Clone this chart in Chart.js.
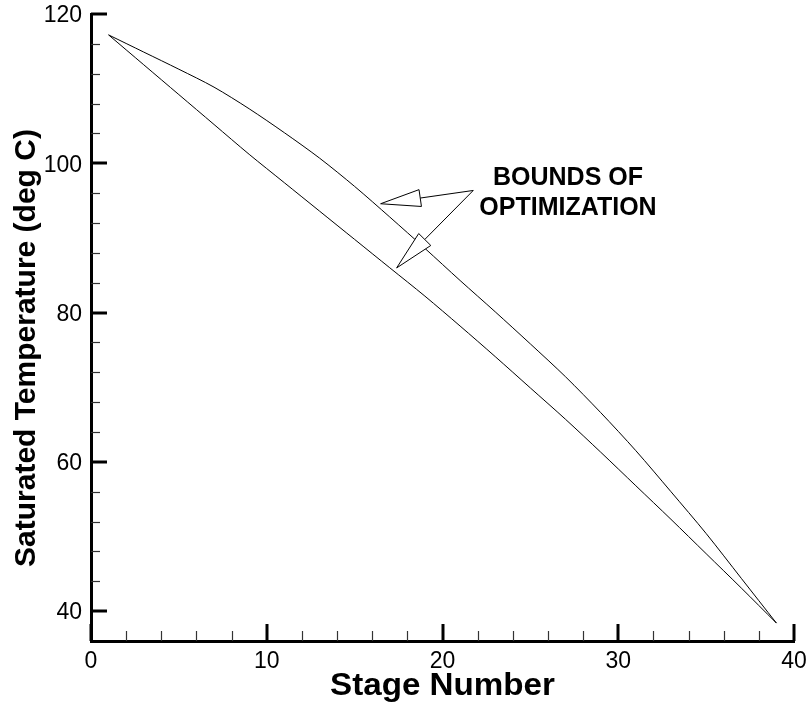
<!DOCTYPE html>
<html>
<head>
<meta charset="utf-8">
<script src="https://cdn.jsdelivr.net/npm/chart.js@4.4.1/dist/chart.umd.min.js"></script>
<style>
    html, body { margin: 0; padding: 0; background: #fff; }
    #wrap { width: 809px; height: 702px; }
</style>
</head>
<body>
<div id="wrap"><canvas id="Chart" width="809" height="702"></canvas></div>
<script>
// saturated temperature per stage, upper and lower bounds
const stages = [1, 3, 5, 7, 9, 11, 13, 15, 17, 19, 21, 23, 25, 27, 29, 31, 33, 35, 37, 39];
const upperBound = [117.2, 114.9, 112.6, 110.2, 107.3, 104.1, 100.7, 96.9, 92.8, 88.6,
    84.3, 80.1, 75.8, 71.4, 66.6, 61.5, 56.0, 50.4, 44.4, 38.4];
const lowerBound = [117.2, 113.2, 109.2, 105.2, 101.2, 97.4, 93.6, 89.8, 86.0, 82.2,
    78.2, 74.1, 69.9, 65.7, 61.3, 56.8, 52.3, 47.7, 43.1, 38.4];

const xTicks = [0, 10, 20, 30, 40];
const yTicks = [40, 60, 80, 100, 120];
const xMinorTicks = [2, 4, 6, 8, 12, 14, 16, 18, 22, 24, 26, 28, 32, 34, 36, 38];
const yMinorTicks = [44, 48, 52, 56, 64, 68, 72, 76, 84, 88, 92, 96, 104, 108, 112, 116];

const labelLines = ['BOUNDS OF', 'OPTIMIZATION'];
const xTitle = 'Stage Number';
const yTitle = 'Saturated Temperature (deg C)';

// label anchor and arrow tips, in data units
const labelAt = {x: 27.14, y: [97.1, 93.1]};
const arrowFrom = {x: 21.75, y: 96.36};
const arrowTips = [{x: 16.48, y: 94.58}, {x: 17.39, y: 85.98}];

const FONT = 'Arial, "Liberation Sans", sans-serif';

function drawArrow(ctx, x0, y0, x1, y1) {
    const headLen = 40, half = 8.5;
    const dx = x1 - x0, dy = y1 - y0;
    const len = Math.sqrt(dx * dx + dy * dy);
    const ux = dx / len, uy = dy / len;
    const bx = x1 - ux * headLen, by = y1 - uy * headLen;
    ctx.beginPath();
    ctx.moveTo(x0, y0);
    ctx.lineTo(bx, by);
    ctx.stroke();
    ctx.beginPath();
    ctx.moveTo(x1, y1);
    ctx.lineTo(bx - uy * half, by + ux * half);
    ctx.lineTo(bx + uy * half, by - ux * half);
    ctx.closePath();
    ctx.fillStyle = '#fff';
    ctx.fill();
    ctx.stroke();
}

const extras = {
    id: 'extras',
    afterDraw(chart) {
        const ctx = chart.ctx;
        const xs = chart.scales.x, ys = chart.scales.y;
        const area = chart.chartArea;
        ctx.save();
        ctx.strokeStyle = '#000';

        // ticks point into the plot
        ctx.lineWidth = 3;
        xTicks.forEach(function (v) {
            const px = Math.round(xs.getPixelForValue(v));
            ctx.beginPath();
            ctx.moveTo(px, area.bottom);
            ctx.lineTo(px, area.bottom - 17);
            ctx.stroke();
        });
        yTicks.forEach(function (v) {
            const py = Math.round(ys.getPixelForValue(v));
            ctx.beginPath();
            ctx.moveTo(area.left, py);
            ctx.lineTo(area.left + 16, py);
            ctx.stroke();
        });
        ctx.lineWidth = 1.2;
        ctx.strokeStyle = '#333';
        xMinorTicks.forEach(function (v) {
            const px = Math.round(xs.getPixelForValue(v)) + 0.5;
            ctx.beginPath();
            ctx.moveTo(px, area.bottom);
            ctx.lineTo(px, area.bottom - 10);
            ctx.stroke();
        });
        yMinorTicks.forEach(function (v) {
            const py = Math.round(ys.getPixelForValue(v)) + 0.5;
            ctx.beginPath();
            ctx.moveTo(area.left, py);
            ctx.lineTo(area.left + 9, py);
            ctx.stroke();
        });

        // axis titles
        ctx.fillStyle = '#000';
        ctx.textAlign = 'center';
        ctx.textBaseline = 'alphabetic';
        ctx.font = 'bold 31px ' + FONT;
        ctx.save();
        ctx.translate((area.left + area.right) / 2, 695);
        ctx.scale(1.07, 1);
        ctx.fillText(xTitle, 0, 0);
        ctx.restore();
        ctx.font = 'bold 30px ' + FONT;
        ctx.save();
        ctx.translate(35, 348);
        ctx.rotate(-Math.PI / 2);
        ctx.fillText(yTitle, 0, 0);
        ctx.restore();

        // annotation
        ctx.font = 'bold 25px ' + FONT;
        const lx = xs.getPixelForValue(labelAt.x);
        labelLines.forEach(function (t, i) {
            ctx.fillText(t, lx, ys.getPixelForValue(labelAt.y[i]));
        });
        ctx.strokeStyle = '#000';
        ctx.lineWidth = 1;
        const ox = xs.getPixelForValue(arrowFrom.x), oy = ys.getPixelForValue(arrowFrom.y);
        arrowTips.forEach(function (tip) {
            drawArrow(ctx, ox, oy, xs.getPixelForValue(tip.x), ys.getPixelForValue(tip.y));
        });
        ctx.restore();
    }
};

function toPoints(values) {
    return stages.map(function (s, i) { return {x: s, y: values[i]}; });
}

new Chart(document.getElementById('Chart'), {
    type: 'line',
    data: {
        datasets: [{
            label: 'Upper bound',
            data: toPoints(upperBound),
            borderColor: '#000',
            borderWidth: 1,
            pointRadius: 0,
            tension: 0.3
        }, {
            label: 'Lower bound',
            data: toPoints(lowerBound),
            borderColor: '#000',
            borderWidth: 1,
            pointRadius: 0,
            tension: 0.3
        }]
    },
    options: {
        responsive: false,
        animation: false,
        devicePixelRatio: 1,
        layout: {padding: {left: 0, right: 15, top: 14, bottom: 0}},
        plugins: {legend: {display: false}, tooltip: {enabled: false}},
        scales: {
            x: {
                type: 'linear',
                min: 0,
                max: 40,
                afterBuildTicks: function (scale) {
                    scale.ticks = xTicks.map(function (v) { return {value: v}; });
                },
                afterFit: function (scale) {
                    // end labels may hang past the plot edge
                    scale.height = 61;
                    scale.paddingLeft = 0;
                    scale.paddingRight = 0;
                },
                grid: {display: false, drawTicks: false},
                border: {display: true, color: '#000', width: 3},
                ticks: {color: '#000', padding: 7, maxRotation: 0, font: {family: FONT, size: 23}}
            },
            y: {
                type: 'linear',
                min: 36,
                max: 120,
                afterBuildTicks: function (scale) {
                    scale.ticks = yTicks.map(function (v) { return {value: v}; });
                },
                afterFit: function (scale) {
                    scale.width = 91;
                    scale.paddingTop = 0;
                    scale.paddingBottom = 0;
                },
                grid: {display: false, drawTicks: false},
                border: {display: true, color: '#000', width: 3},
                ticks: {color: '#000', padding: 9, labelOffset: 2, font: {family: FONT, size: 23}}
            }
        }
    },
    plugins: [extras]
});
</script>
</body>
</html>
